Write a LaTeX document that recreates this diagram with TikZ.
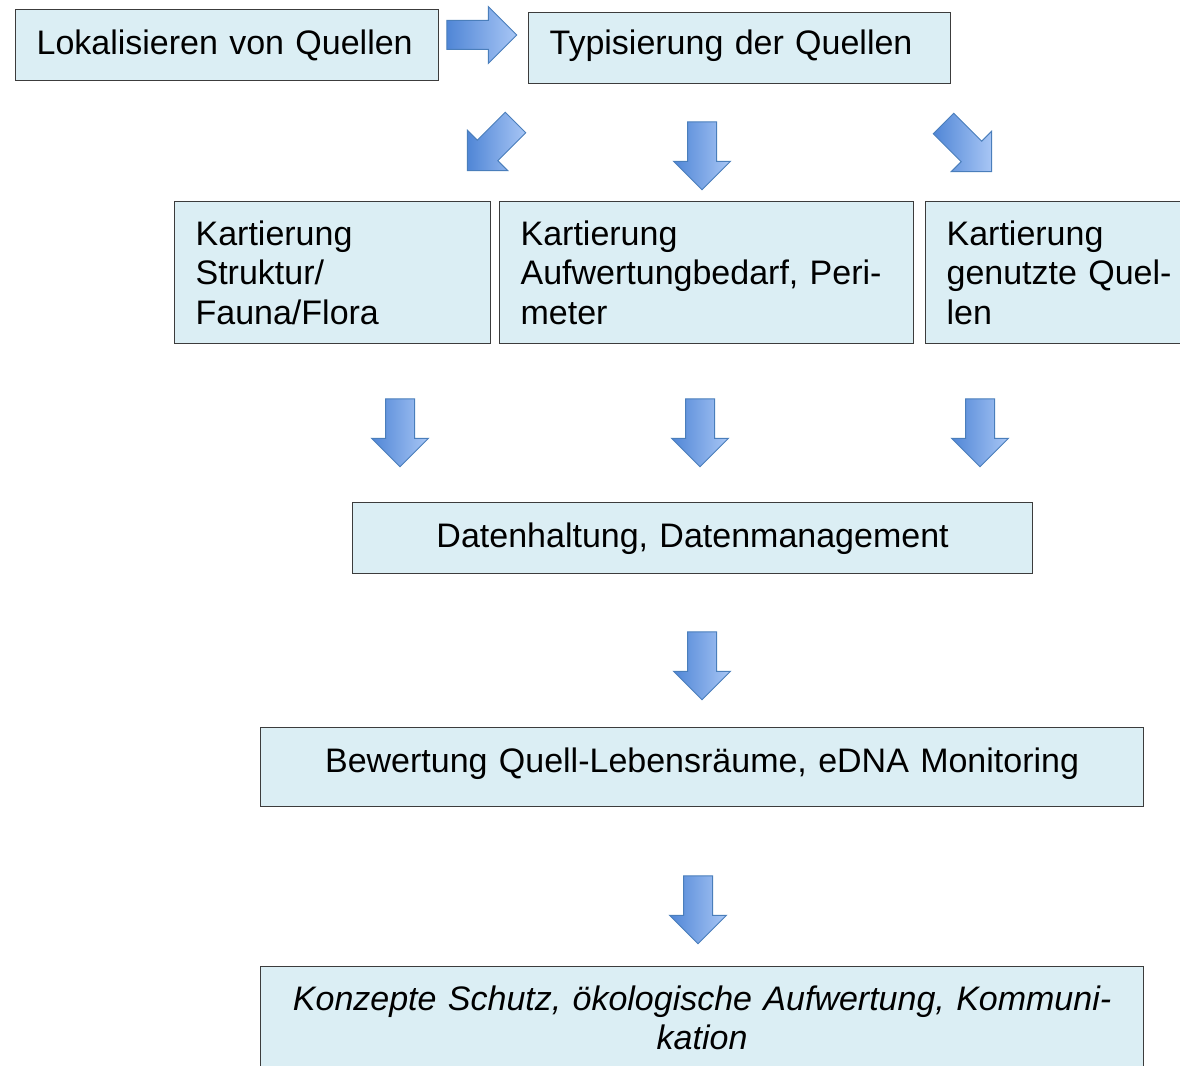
\documentclass[tikz,border=0pt]{standalone}
\usepackage{fontspec}
\setmainfont{Liberation Sans}
\usetikzlibrary{shapes.arrows}
\definecolor{boxfill}{RGB}{219,238,244}
\definecolor{boxline}{RGB}{60,60,60}
\definecolor{arrowtop}{RGB}{168,198,245}
\definecolor{arrowbot}{RGB}{80,134,214}
\definecolor{arrowline}{RGB}{74,126,187}

\begin{document}
\begin{tikzpicture}[x=1pt,y=-1pt,
        font=\fontsize{34}{39.5}\selectfont,
        box/.style={draw=boxline, line width=1.2pt, fill=boxfill, anchor=north west,
            inner xsep=21pt, inner ysep=0pt},
        oneline/.style={text height=25pt, text depth=7pt},
        bigarrow/.style={single arrow, draw=arrowline, line width=1pt,
            left color=arrowbot, right color=arrowtop, minimum height=68pt,
            inner xsep=0pt, inner ysep=14pt, single arrow head extend=14pt}]
        \useasboundingbox (0,0) rectangle (1180,1065);
        \clip (0,0) rectangle (1180,1065);
        % top row
        \node[box, oneline, minimum height=71pt, text width=381pt, align=left] (lok) at (15,9) {Lokalisieren von Quellen};
        \node[box, oneline, text depth=12pt, minimum height=71pt, text width=380pt, align=left] (typ) at (528,12) {Typisierung der Quellen};
        % mapping
        \node[box, minimum height=142pt, text width=274pt, align=left] (k1) at (174,201) {Kartierung\\Struktur/\\Fauna/Flora};
        \node[box, minimum height=142pt, text width=372pt, align=left] (k2) at (499,201) {Kartierung\\Aufwertungbedarf, Peri-\\meter};
        \node[box, minimum height=142pt, text width=248pt, align=left] (k3) at (925,201) {Kartierung\\genutzte Quel-\\len};
        % lower boxes
        \node[box, oneline, minimum height=71pt, text width=638pt, align=center] (dat) at (352,502) {Datenhaltung, Datenmanagement};
        \node[box, oneline, text depth=15pt, minimum height=79pt, text width=841pt, align=center] (bew) at (260,727) {Bewertung Quell-Lebensräume, eDNA Monitoring};
        \node[box, inner ysep=19pt, text width=841pt, align=center, font=\fontsize{34}{39.5}\selectfont\itshape] (kon) at (260,966) {Konzepte Schutz, ökologische Aufwertung, Kommuni-\\kation\\\mbox{}};
        % arrows
        \node[bigarrow, minimum height=70pt] (alok) at (474.5,35) {};
        \node[bigarrow, rotate=-135] (atyp1) at (496.6,141.4) {};
        \node[bigarrow, rotate=-90] (atyp2) at (702,148.5) {};
        \node[bigarrow, rotate=-45] (atyp3) at (962.4,142.4) {};
        \foreach \x/\n in {400/k1, 700/k2, 980/k3}
        \node[bigarrow, rotate=-90] (a\n) at (\x,425.5) {};
        \node[bigarrow, rotate=-90] (adat) at (702,658.5) {};
        \node[bigarrow, rotate=-90] (abew) at (698,902.5) {};
    \end{tikzpicture}
\end{document}
